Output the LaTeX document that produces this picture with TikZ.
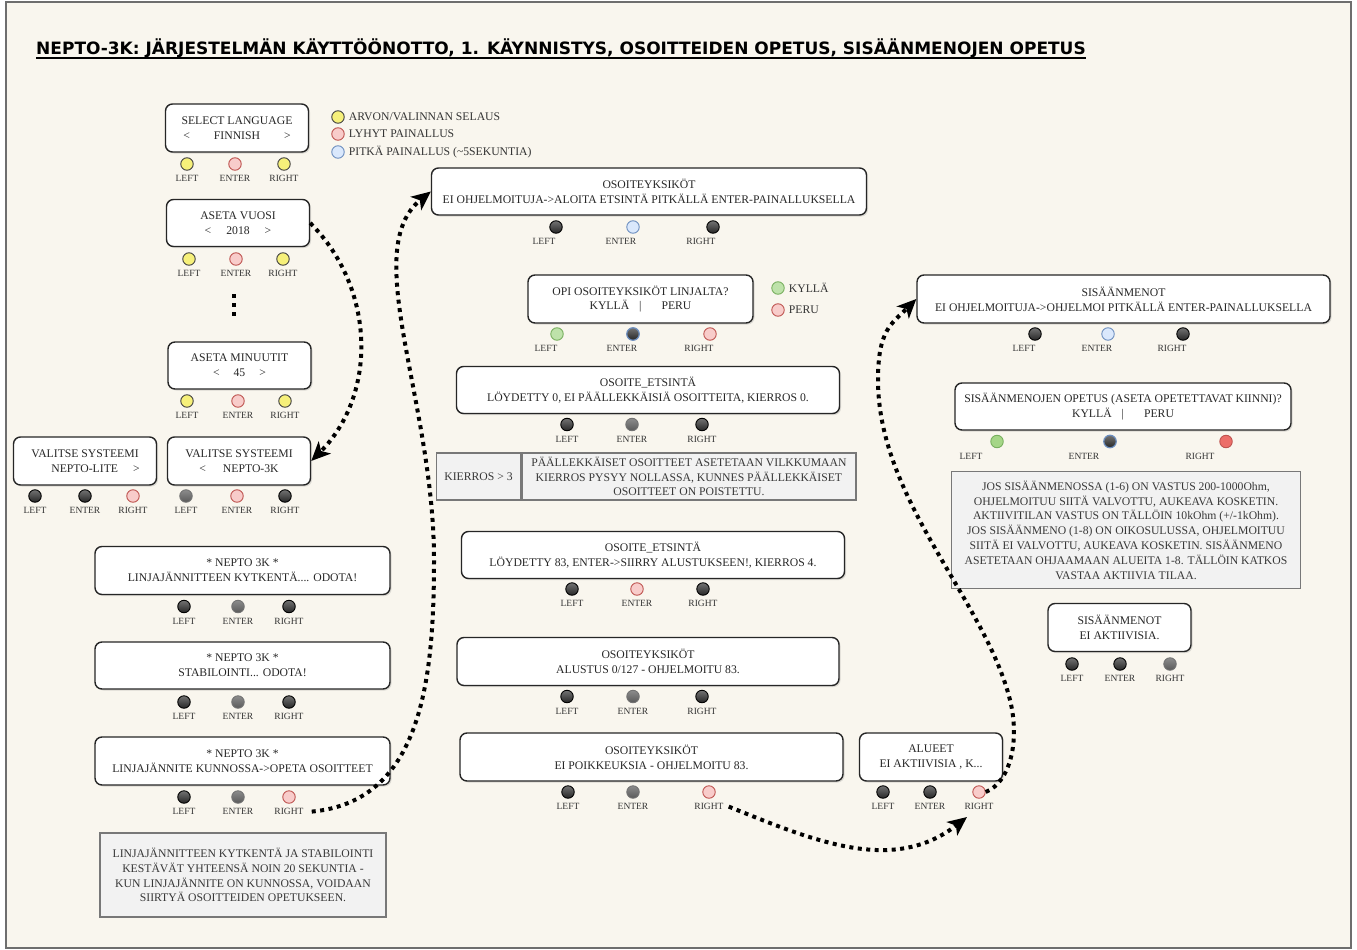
\documentclass[tikz,border=0pt]{standalone}
\usepackage{fontspec}
\setmainfont{Liberation Serif}
\newfontfamily\titlefont{DejaVu Sans}
\usetikzlibrary{arrows.meta,shadows}

\definecolor{paper}{RGB}{249,246,238}
\definecolor{frameg}{RGB}{110,110,110}
\definecolor{yelF}{RGB}{246,240,122}
\definecolor{pinkF}{RGB}{248,204,202}
\definecolor{pinkD}{RGB}{190,84,80}
\definecolor{blueF}{RGB}{218,232,252}
\definecolor{blueD}{RGB}{108,142,191}
\definecolor{greenF}{RGB}{190,226,170}
\definecolor{greenD}{RGB}{120,175,95}
\definecolor{greenB}{RGB}{165,214,135}
\definecolor{redB}{RGB}{236,110,105}
\definecolor{noteF}{RGB}{242,242,242}
\definecolor{noteD}{RGB}{120,120,120}
\definecolor{noteT}{RGB}{55,55,55}

\newcommand\screenfont{\fontsize{11.7}{14.8}\selectfont}
\newcommand\tagfont{\fontsize{9.5}{10}\selectfont}

\tikzset{
  screen/.style={draw=black!85, line width=1.4pt, rounded corners=7pt, fill=white, align=center,
    font=\screenfont, text=black!85, inner sep=2pt,
    drop shadow={opacity=0.25, shadow xshift=1.5pt, shadow yshift=-1.5pt}},
  notebox/.style={draw=noteD, line width=1.4pt, fill=noteF, align=center, font=\screenfont,
    text=noteT, inner sep=2pt},
  btn/.style={circle, minimum size=12.5pt, inner sep=0pt, line width=0.9pt},
  bYel/.style={btn, fill=yelF, draw=black!75},
  bRed/.style={btn, fill=pinkF, draw=pinkD},
  bBlue/.style={btn, fill=blueF, draw=blueD},
  bDark/.style={btn, top color=black!55, bottom color=black!85, draw=black},
  bGrey/.style={btn, top color=black!45, bottom color=black!65, draw=black!55},
  bNight/.style={btn, top color=black!55, bottom color=black!85, draw=blueD, line width=1.2pt},
  bGreen/.style={btn, fill=greenF, draw=greenD},
  bGreenB/.style={btn, fill=greenB, draw=greenD},
  bRedB/.style={btn, fill=redB, draw=pinkD},
  lbl/.style={font=\tagfont, text=black!80, inner sep=0pt, yshift=-4.5pt},
  legtext/.style={font=\screenfont, text=black!80, inner sep=0pt, xshift=4pt},
  flow/.style={line width=4pt, dash pattern=on 4pt off 4.5pt,
    -{Stealth[length=19pt,width=17pt,inset=5pt]}},
}

\begin{document}
\begin{tikzpicture}[x=1pt,y=-1pt]
\useasboundingbox (0,0) rectangle (1357,950);
\fill[white] (0,0) rectangle (1357,950);
\draw[frameg, line width=1.5pt, fill=paper] (6,2) rectangle (1351,948);

\node[anchor=base west, inner sep=0pt] (title) at (36,55)
  {\titlefont\bfseries\fontsize{17}{19}\selectfont NEPTO-3K: JÄRJESTELMÄN KÄYTTÖÖNOTTO, 1. KÄYNNISTYS, OSOITTEIDEN OPETUS, SISÄÄNMENOJEN OPETUS};
\draw[line width=1.6pt] ([yshift=-3pt]title.base west) -- ([yshift=-3pt]title.base east);

\node[bYel, label={[legtext]right:ARVON/VALINNAN SELAUS}] (leg1) at (338,117) {};
\node[bRed, label={[legtext]right:LYHYT PAINALLUS}] (leg2) at (338,134) {};
\node[bBlue, label={[legtext]right:PITKÄ PAINALLUS (\textasciitilde 5SEKUNTIA)}] (leg3) at (338,152) {};
\node[bGreen, label={[legtext]right:KYLLÄ}] (leg4) at (778,288) {};
\node[bRed, label={[legtext]right:PERU}] (leg5) at (778,310) {};

\node[screen, minimum width=143pt, minimum height=48pt] (lang) at (237,128) {SELECT LANGUAGE\\<\hspace{24pt}FINNISH\hspace{24pt}>};
\node[screen, minimum width=143pt, minimum height=47pt] (vuosi) at (238,223) {ASETA VUOSI\\<\hspace{15pt}2018\hspace{15pt}>};
\node[screen, minimum width=143pt, minimum height=47pt] (minuutit) at (239.5,365.5) {ASETA MINUUTIT\\<\hspace{14pt}45\hspace{14pt}>};
\node[screen, minimum width=143pt, minimum height=48pt] (syslite) at (85,461) {VALITSE SYSTEEMI\\\hspace{21pt}NEPTO-LITE\hspace{15pt}>};
\node[screen, minimum width=143pt, minimum height=48pt] (sys3k) at (239,461) {VALITSE SYSTEEMI\\<\hspace{17pt}NEPTO-3K\hspace{22pt}};
\node[screen, minimum width=295pt, minimum height=48pt] (kytk) at (242.5,570.5) {* NEPTO 3K *\\LINJAJÄNNITTEEN KYTKENTÄ.... ODOTA!};
\node[screen, minimum width=295pt, minimum height=47pt] (stab) at (242.5,665.5) {* NEPTO 3K *\\STABILOINTI... ODOTA!};
\node[screen, minimum width=295pt, minimum height=48pt] (kunn) at (242.5,761) {* NEPTO 3K *\\LINJAJÄNNITE KUNNOSSA->OPETA OSOITTEET};
\node[notebox, minimum width=286pt, minimum height=84pt] (huom1) at (243,875) {LINJAJÄNNITTEEN KYTKENTÄ JA STABILOINTI\\KESTÄVÄT YHTEENSÄ NOIN 20 SEKUNTIA -\\KUN LINJAJÄNNITE ON KUNNOSSA, VOIDAAN\\SIIRTYÄ OSOITTEIDEN OPETUKSEEN.};

\node[screen, minimum width=435pt, minimum height=47pt] (osoite) at (649,191.5) {OSOITEYKSIKÖT\\EI OHJELMOITUJA->ALOITA ETSINTÄ PITKÄLLÄ ENTER-PAINALLUKSELLA};
\node[screen, minimum width=225pt, minimum height=48pt] (opi) at (640.5,299) {OPI OSOITEYKSIKÖT LINJALTA?\\KYLLÄ\hspace{10pt}|\hspace{20pt}PERU};
\node[screen, minimum width=383pt, minimum height=47pt] (etsi0) at (648,390) {OSOITE\_ETSINTÄ\\LÖYDETTY 0, EI PÄÄLLEKKÄISIÄ OSOITTEITA, KIERROS 0.};
\node[notebox, minimum width=84pt, minimum height=47pt] (kierros) at (478.5,476.5) {KIERROS > 3};
\node[notebox, minimum width=334pt, minimum height=47pt, anchor=west] (kierrosTxt) at (kierros.east) {PÄÄLLEKKÄISET OSOITTEET ASETETAAN VILKKUMAAN\\KIERROS PYSYY NOLLASSA, KUNNES PÄÄLLEKKÄISET\\OSOITTEET ON POISTETTU.};
\node[screen, minimum width=383pt, minimum height=47pt] (etsi83) at (653,555) {OSOITE\_ETSINTÄ\\LÖYDETTY 83, ENTER->SIIRRY ALUSTUKSEEN!, KIERROS 4.};
\node[screen, minimum width=382pt, minimum height=48pt] (alustus) at (648,661.5) {OSOITEYKSIKÖT\\ALUSTUS 0/127 - OHJELMOITU 83.};
\node[screen, minimum width=383pt, minimum height=48pt] (poik) at (651.5,757) {OSOITEYKSIKÖT\\EI POIKKEUKSIA - OHJELMOITU 83.};
\node[screen, minimum width=143pt, minimum height=48pt] (alueet) at (931,757) {ALUEET\\EI AKTIIVISIA , K...};

\node[screen, minimum width=413pt, minimum height=48pt] (sisa) at (1123.5,299) {SISÄÄNMENOT\\EI OHJELMOITUJA->OHJELMOI PITKÄLLÄ ENTER-PAINALLUKSELLA};
\node[screen, minimum width=336pt, minimum height=47pt] (opetus) at (1123,406.5) {SISÄÄNMENOJEN OPETUS (ASETA OPETETTAVAT KIINNI)?\\KYLLÄ\hspace{10pt}|\hspace{20pt}PERU};
\node[notebox, minimum width=349pt, minimum height=117pt] (huom2) at (1126,530) {JOS SISÄÄNMENOSSA (1-6) ON VASTUS 200-1000Ohm,\\OHJELMOITUU SIITÄ VALVOTTU, AUKEAVA KOSKETIN.\\AKTIIVITILAN VASTUS ON TÄLLÖIN 10kOhm (+/-1kOhm).\\JOS SISÄÄNMENO (1-8) ON OIKOSULUSSA, OHJELMOITUU\\SIITÄ EI VALVOTTU, AUKEAVA KOSKETIN. SISÄÄNMENO\\ASETETAAN OHJAAMAAN ALUEITA 1-8. TÄLLÖIN KATKOS\\VASTAA AKTIIVIA TILAA.};
\node[screen, minimum width=143pt, minimum height=48pt] (eiakt) at (1119.5,627.5) {SISÄÄNMENOT\\EI AKTIIVISIA.};

\foreach \x/\s/\w [count=\i] in {187/bYel/LEFT,235/bRed/ENTER,284/bYel/RIGHT}
  \node[\s, label={[lbl,name=lang-\i-t]below:\w}] (lang-\i) at (\x,164) {};
\foreach \x/\s/\w [count=\i] in {189/bYel/LEFT,236/bRed/ENTER,283/bYel/RIGHT}
  \node[\s, label={[lbl,name=vuosi-\i-t]below:\w}] (vuosi-\i) at (\x,259) {};
\foreach \x/\s/\w [count=\i] in {187/bYel/LEFT,238/bRed/ENTER,285/bYel/RIGHT}
  \node[\s, label={[lbl,name=minuutit-\i-t]below:\w}] (minuutit-\i) at (\x,401) {};
\foreach \x/\s/\w [count=\i] in {35/bDark/LEFT,85/bDark/ENTER,133/bRed/RIGHT}
  \node[\s, label={[lbl,name=syslite-\i-t]below:\w}] (syslite-\i) at (\x,496) {};
\foreach \x/\s/\w [count=\i] in {186/bGrey/LEFT,237/bRed/ENTER,285/bDark/RIGHT}
  \node[\s, label={[lbl,name=sys3k-\i-t]below:\w}] (sys3k-\i) at (\x,496) {};
\foreach \x/\s/\w [count=\i] in {184/bDark/LEFT,238/bGrey/ENTER,289/bDark/RIGHT}
  \node[\s, label={[lbl,name=kytk-\i-t]below:\w}] (kytk-\i) at (\x,606.5) {};
\foreach \x/\s/\w [count=\i] in {184/bDark/LEFT,238/bGrey/ENTER,289/bDark/RIGHT}
  \node[\s, label={[lbl,name=stab-\i-t]below:\w}] (stab-\i) at (\x,702) {};
\foreach \x/\s/\w [count=\i] in {184/bDark/LEFT,238/bGrey/ENTER,289/bRed/RIGHT}
  \node[\s, label={[lbl,name=kunn-\i-t]below:\w}] (kunn-\i) at (\x,797) {};

\foreach \x/\s/\w [count=\i] in {556/bDark/LEFT,633/bBlue/ENTER,713/bDark/RIGHT}
  \node[\s, label={[lbl,name=osoite-\i-t,xshift=-12pt]below:\w}] (osoite-\i) at (\x,227) {};
\foreach \x/\s/\w [count=\i] in {557/bGreen/LEFT,633/bNight/ENTER,710/bRed/RIGHT}
  \node[\s, label={[lbl,name=opi-\i-t,xshift=-11pt]below:\w}] (opi-\i) at (\x,334) {};
\foreach \x/\s/\w [count=\i] in {567/bDark/LEFT,632/bGrey/ENTER,702/bDark/RIGHT}
  \node[\s, label={[lbl,name=etsi0-\i-t]below:\w}] (etsi0-\i) at (\x,424.5) {};
\foreach \x/\s/\w [count=\i] in {572/bDark/LEFT,637/bRed/ENTER,703/bDark/RIGHT}
  \node[\s, label={[lbl,name=etsi83-\i-t]below:\w}] (etsi83-\i) at (\x,589) {};
\foreach \x/\s/\w [count=\i] in {567/bDark/LEFT,633/bGrey/ENTER,702/bDark/RIGHT}
  \node[\s, label={[lbl,name=alustus-\i-t]below:\w}] (alustus-\i) at (\x,696.5) {};
\foreach \x/\s/\w [count=\i] in {568/bDark/LEFT,633/bGrey/ENTER,709/bRed/RIGHT}
  \node[\s, label={[lbl,name=poik-\i-t]below:\w}] (poik-\i) at (\x,792) {};
\foreach \x/\s/\w [count=\i] in {883/bDark/LEFT,930/bDark/ENTER,979/bRed/RIGHT}
  \node[\s, label={[lbl,name=alueet-\i-t]below:\w}] (alueet-\i) at (\x,792) {};

\foreach \x/\s/\w [count=\i] in {1035/bDark/LEFT,1108/bBlue/ENTER,1183/bDark/RIGHT}
  \node[\s, label={[lbl,name=sisa-\i-t,xshift=-11pt]below:\w}] (sisa-\i) at (\x,334) {};
\foreach \x/\s/\w [count=\i] in {997/bGreenB/LEFT,1110/bNight/ENTER,1226/bRedB/RIGHT}
  \node[\s, label={[lbl,name=opetus-\i-t,xshift=-26pt]below:\w}] (opetus-\i) at (\x,441.5) {};
\foreach \x/\s/\w [count=\i] in {1072/bDark/LEFT,1120/bDark/ENTER,1170/bGrey/RIGHT}
  \node[\s, label={[lbl,name=eiakt-\i-t]below:\w}] (eiakt-\i) at (\x,664) {};

\node[fill=black, minimum size=4.5pt, inner sep=0pt] (piste1) at (234,296) {};
\node[fill=black, minimum size=4.5pt, inner sep=0pt] (piste2) at (234,305) {};
\node[fill=black, minimum size=4.5pt, inner sep=0pt] (piste3) at (234,314) {};

\coordinate (alueetin) at (967,817);
\draw[flow] (vuosi.east) to[out=-45, in=45] (sys3k.east);
\draw[flow] ([xshift=8pt]kunn-3-t.east) .. controls +(110,-10) and +(0,120) .. (434,560)
  .. controls +(0,-160) and +(-72,58) .. (osoite.west);
\draw[flow] ([xshift=5pt]poik-3-t.east) to[out=-22, in=-142] (alueetin);
\draw[flow] (alueet-3.east) .. controls +(25,-10) and +(10,40) .. (1010,700)
  .. controls +(-25,-100) and +(0,120) .. (878,380)
  .. controls +(0,-50) and +(-25,25) .. (sisa.west);
\end{tikzpicture}
\end{document}
